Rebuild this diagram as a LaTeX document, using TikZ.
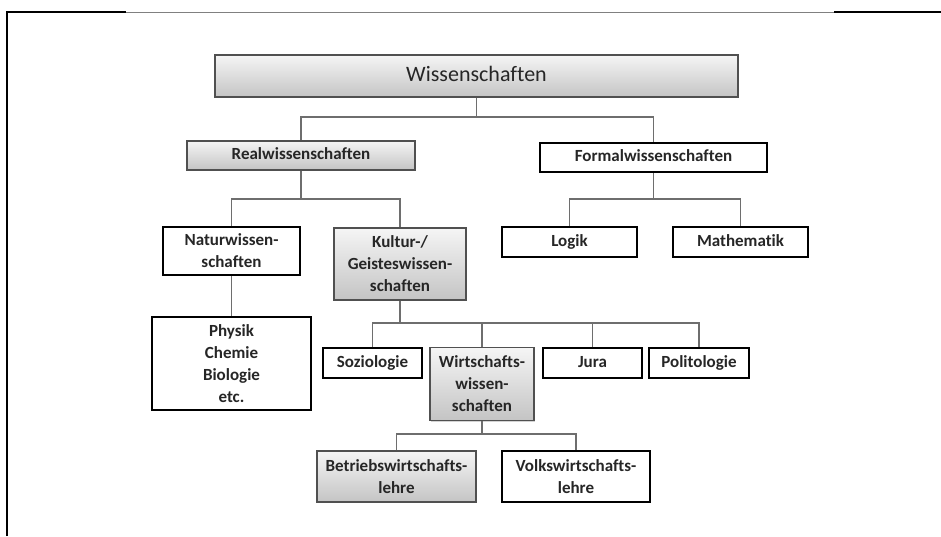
\documentclass[tikz,border=0pt]{standalone}
\usepackage{fontspec}
\setmainfont{Carlito}[Ligatures={NoCommon}]
\usetikzlibrary{shadows}
\definecolor{boxtop}{RGB}{245,245,245}
\definecolor{boxbot}{RGB}{196,196,196}
\definecolor{graybord}{RGB}{80,80,80}
\definecolor{conncol}{RGB}{110,110,110}
\tikzset{
  base/.style={rectangle, align=center, inner sep=0pt, text=black!85, font=\fontsize{17}{22}\selectfont\bfseries},
  oneline/.style={text height=12pt, text depth=4pt},
  graybox/.style={base, draw=graybord, line width=1.2pt, top color=boxtop, bottom color=boxbot,
     drop shadow={shadow xshift=1.2pt, shadow yshift=-1.2pt, opacity=0.35}},
  whitebox/.style={base, draw=black, line width=2pt, fill=white,
     drop shadow={shadow xshift=1pt, shadow yshift=-1pt, opacity=0.25}},
  conn/.style={draw=conncol, line width=1.3pt},
  frameline/.style={draw=black, line width=2.2pt},
}
\begin{document}
\begin{tikzpicture}[x=1pt,y=-1pt]
\useasboundingbox (0,0) rectangle (941,536);
% frame
\draw[frameline] (7,536) -- (7,12) -- (126,12);
\draw[draw=gray, line width=1pt] (126,12) -- (834,12);
\draw[frameline] (834,12) -- (941,12);

% nodes
\node[graybox, minimum width=523pt, minimum height=42pt, font=\fontsize{22}{26}\selectfont, text height=15pt, text depth=5pt] (W) at (476.5,76) {Wissenschaften};
\node[graybox, oneline, minimum width=228pt, minimum height=29pt] (R) at (301,155.5) {Realwissenschaften};
\node[whitebox, oneline, minimum width=227pt, minimum height=29pt] (F) at (653.5,157.5) {Formalwissenschaften};
\node[whitebox, minimum width=137pt, minimum height=48pt] (N) at (231.5,251) {Naturwissen-\\schaften};
\node[graybox, minimum width=132pt, minimum height=72pt] (K) at (400,264) {Kultur-/\\Geisteswissen-\\schaften};
\node[whitebox, oneline, minimum width=135pt, minimum height=30pt] (L) at (569.5,242) {Logik};
\node[whitebox, oneline, minimum width=135pt, minimum height=30pt] (M) at (740.5,242) {Mathematik};
\node[whitebox, minimum width=159pt, minimum height=93pt] (P) at (231.5,363.5) {Physik\\Chemie\\Biologie\\etc.};
\node[whitebox, oneline, minimum width=99pt, minimum height=30pt] (S) at (372.5,363) {Soziologie};
\node[graybox, minimum width=104pt, minimum height=73pt] (Wi) at (482,384) {Wirtschafts-\\wissen-\\schaften};
\node[whitebox, oneline, minimum width=99pt, minimum height=30pt] (J) at (592.5,363) {Jura};
\node[whitebox, oneline, minimum width=100pt, minimum height=30pt] (Po) at (699,363) {Politologie};
\node[graybox, minimum width=159pt, minimum height=51pt] (B) at (396.5,476.5) {Betriebswirtschafts-\\lehre};
\node[whitebox, minimum width=148pt, minimum height=51pt] (V) at (576,476.5) {Volkswirtschafts-\\lehre};

% connectors
\draw[conn] (W.south) -- (W.south |- 0,117);
\draw[conn] (R.north) |- (F.north |- 0,117) -- (F.north);

\draw[conn] (R.south) -- (R.south |- 0,199);
\draw[conn] (N.north) |- (K.north |- 0,199) -- (K.north);

\draw[conn] (F.south) -- (F.south |- 0,199);
\draw[conn] (L.north) |- (M.north |- 0,199) -- (M.north);

\draw[conn] (N.south) -- (P.north);

\draw[conn] (K.south) -- (K.south |- 0,323);
\draw[conn] (S.north) |- (Po.north |- 0,323) -- (Po.north);
\draw[conn] (Wi.north) -- (Wi.north |- 0,323);
\draw[conn] (J.north) -- (J.north |- 0,323);

\draw[conn] (Wi.south) -- (Wi.south |- 0,434);
\draw[conn] (B.north) |- (V.north |- 0,434) -- (V.north);
\end{tikzpicture}
\end{document}
